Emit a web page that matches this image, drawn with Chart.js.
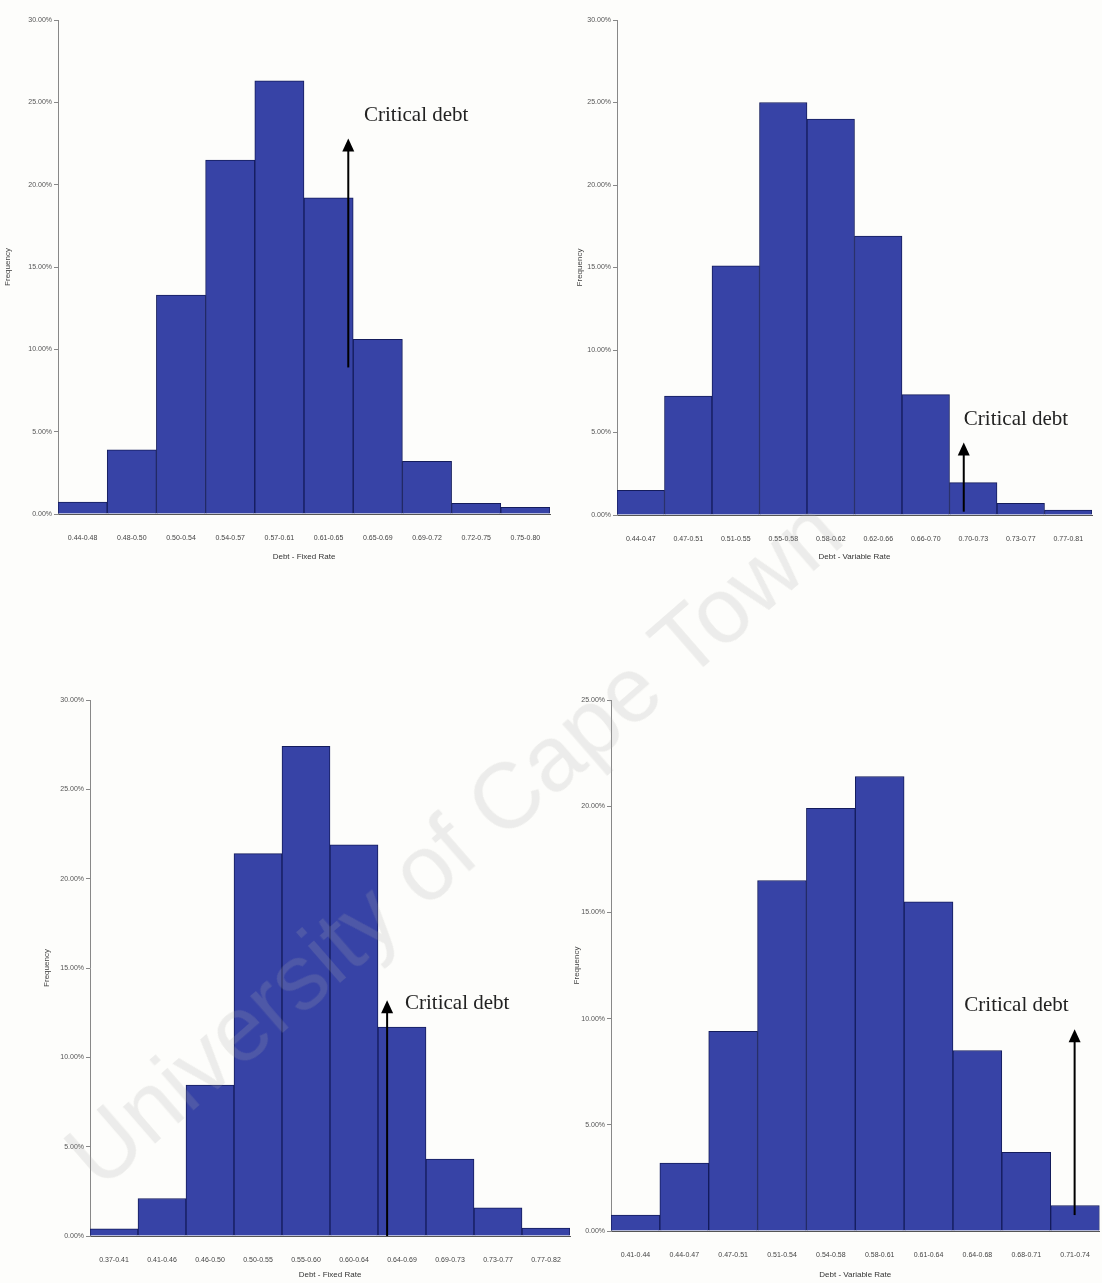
<!DOCTYPE html>
<html>
<head>
<meta charset="utf-8">
<script src="https://cdn.jsdelivr.net/npm/chart.js@4.4.1/dist/chart.umd.min.js"></script>
<style>
  body { margin: 0; background: #fdfdfb; }
  #page { position: relative; width: 1102px; height: 1283px; overflow: hidden; }
  .box { position: absolute; }
  #mark {
    position: absolute; left: 45px; top: 1128px; width: 1400px;
    font: 92px "Liberation Sans", Arial, sans-serif; color: rgba(170,170,170,0.2);
    transform: rotate(-41deg); transform-origin: 0 0; white-space: nowrap; pointer-events: none;
  }
</style>
</head>
<body>
<div id="page">
  <div class="box" style="left:0;top:0;width:560px;height:580px"><canvas id="c1"></canvas></div>
  <div class="box" style="left:560px;top:0;width:542px;height:580px"><canvas id="c2"></canvas></div>
  <div class="box" style="left:0;top:640px;width:580px;height:643px"><canvas id="c3"></canvas></div>
  <div class="box" style="left:560px;top:640px;width:542px;height:643px"><canvas id="c4"></canvas></div>
  <div id="mark">University of Cape Town</div>
</div>
<script>
// bin labels (approximate)
const binsFixedTop = ["0.44-0.48", "0.48-0.50", "0.50-0.54", "0.54-0.57", "0.57-0.61", "0.61-0.65", "0.65-0.69", "0.69-0.72", "0.72-0.75", "0.75-0.80"];
const binsVarTop = ["0.44-0.47", "0.47-0.51", "0.51-0.55", "0.55-0.58", "0.58-0.62", "0.62-0.66", "0.66-0.70", "0.70-0.73", "0.73-0.77", "0.77-0.81"];
const binsFixedBottom = ["0.37-0.41", "0.41-0.46", "0.46-0.50", "0.50-0.55", "0.55-0.60", "0.60-0.64", "0.64-0.69", "0.69-0.73", "0.73-0.77", "0.77-0.82"];
const binsVarBottom = ["0.41-0.44", "0.44-0.47", "0.47-0.51", "0.51-0.54", "0.54-0.58", "0.58-0.61", "0.61-0.64", "0.64-0.68", "0.68-0.71", "0.71-0.74"];

// frequencies in %
const freqFixedTop = [0.73, 3.9, 13.3, 21.5, 26.3, 19.2, 10.6, 3.2, 0.65, 0.4];
const freqVarTop = [1.5, 7.2, 15.1, 25.0, 24.0, 16.9, 7.3, 1.96, 0.7, 0.3];
const freqFixedBottom = [0.4, 2.1, 8.45, 21.4, 27.4, 21.9, 11.7, 4.3, 1.57, 0.45];
const freqVarBottom = [0.75, 3.2, 9.4, 16.5, 19.9, 21.4, 15.5, 8.5, 3.7, 1.2];

const yMaxTop = 30, yMaxFixedBottom = 30, yMaxVarBottom = 25;

// critical debt arrows: x in bin index, y in %
const critFixedTop = { x: 5.40, y0: 8.9, y1: 22.8, tx: 6.78, ty: 24.2 };
const critVarTop = { x: 6.80, y0: 0.2, y1: 4.4, tx: 7.9, ty: 5.8 };
const critFixedBottom = { x: 5.69, y0: 0, y1: 13.2, tx: 7.15, ty: 13.0 };
const critVarBottom = { x: 8.99, y0: 0.75, y1: 9.5, tx: 7.8, ty: 10.6 };

const criticalPlugin = {
  id: "critical",
  afterDatasetsDraw(chart, args, opts) {
    const { ctx, scales } = chart;
    const x = scales.x.getPixelForValue(opts.x);
    const y0 = scales.y.getPixelForValue(opts.y0);
    const y1 = scales.y.getPixelForValue(opts.y1);
    ctx.save();
    ctx.strokeStyle = "#000";
    ctx.fillStyle = "#000";
    ctx.lineWidth = 2;
    ctx.beginPath();
    ctx.moveTo(x, y0);
    ctx.lineTo(x, y1 + 10);
    ctx.stroke();
    ctx.beginPath();
    ctx.moveTo(x, y1);
    ctx.lineTo(x - 6, y1 + 13);
    ctx.lineTo(x + 6, y1 + 13);
    ctx.closePath();
    ctx.fill();
    ctx.font = "21px 'Liberation Serif', 'Times New Roman', serif";
    ctx.fillStyle = "#222";
    ctx.textAlign = "center";
    ctx.textBaseline = "middle";
    ctx.fillText("Critical debt", scales.x.getPixelForValue(opts.tx), scales.y.getPixelForValue(opts.ty));
    ctx.restore();
  }
};

function makeChart(id, labels, values, yMax, xTitle, crit, box, area, yTitleOffset, xTitleOffset) {
  const ctx = document.getElementById(id).getContext("2d");
  return new Chart(ctx, {
    type: "bar",
    data: {
      labels: labels,
      datasets: [{
        data: values,
        backgroundColor: "#3743a6",
        borderColor: "#141c5c",
        borderWidth: 1,
        barPercentage: 1,
        categoryPercentage: 1
      }]
    },
    options: {
      responsive: true,
      maintainAspectRatio: false,
      animation: false,
      layout: { padding: { top: area.top - box.top, right: box.left + box.width - area.right, bottom: 0, left: 0 } },
      plugins: { legend: { display: false }, tooltip: { enabled: false }, critical: crit },
      scales: {
        x: {
          grid: { display: false },
          border: { color: "#555" },
          ticks: { autoSkip: false, maxRotation: 0, minRotation: 0, padding: 12, color: "#444", font: { size: 7, family: "Arial" } },
          title: { display: true, text: xTitle, color: "#333", font: { size: 8, family: "Arial" }, padding: { top: 0, bottom: xTitleOffset } },
          afterFit: s => { s.height = box.top + box.height - area.bottom; }
        },
        y: {
          min: 0,
          max: yMax,
          grid: { drawOnChartArea: false, tickLength: 4, color: "#888" },
          border: { color: "#888", width: 1 },
          ticks: { stepSize: 5, padding: 2, color: "#555", font: { size: 7, family: "Arial" }, callback: v => v.toFixed(2) + "%" },
          title: { display: true, text: "Frequency", color: "#444", font: { size: 8, family: "Arial" }, padding: { top: yTitleOffset, bottom: 0 } },
          afterFit: s => { s.width = area.left - box.left; }
        }
      }
    },
    plugins: [criticalPlugin]
  });
}

makeChart("c1", binsFixedTop, freqFixedTop, yMaxTop, "Debt - Fixed Rate", critFixedTop,
  { left: 0, top: 0, width: 560, height: 580 }, { left: 58, top: 20, right: 550, bottom: 514 }, 3, 18);
makeChart("c2", binsVarTop, freqVarTop, yMaxTop, "Debt - Variable Rate", critVarTop,
  { left: 560, top: 0, width: 542, height: 580 }, { left: 617, top: 20, right: 1092, bottom: 515 }, 15, 18);
makeChart("c3", binsFixedBottom, freqFixedBottom, yMaxFixedBottom, "Debt - Fixed Rate", critFixedBottom,
  { left: 0, top: 640, width: 580, height: 643 }, { left: 90, top: 700, right: 570, bottom: 1236 }, 42, 3);
makeChart("c4", binsVarBottom, freqVarBottom, yMaxVarBottom, "Debt - Variable Rate", critVarBottom,
  { left: 560, top: 640, width: 542, height: 643 }, { left: 611, top: 700, right: 1100, bottom: 1231 }, 12, 3);
</script>
</body>
</html>
